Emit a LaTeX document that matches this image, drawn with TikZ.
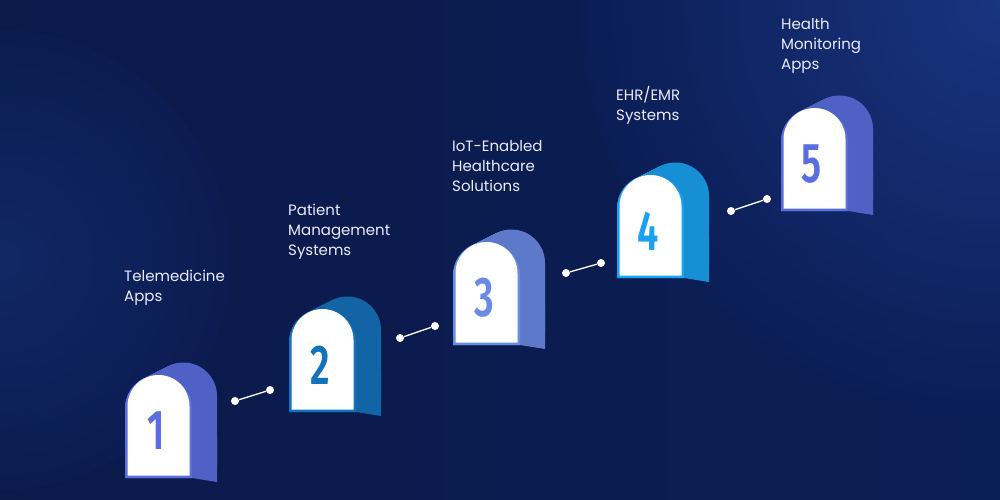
\documentclass[tikz,border=0pt]{standalone}
\usepackage{fontspec}
\setmainfont{Poppins}
\newfontfamily\numfont{Fira Sans}[UprightFont=* SemiBold]
\begin{document}
\begin{tikzpicture}[x=1pt,y=-1pt,
  lbl/.style={text=white!92!blue,font=\fontsize{15}{20}\selectfont,align=left,anchor=north west,inner sep=0pt},
  dot/.style={circle,fill=white,inner sep=0pt,minimum size=8pt},
  link/.style={white,line width=1.3pt}]
\useasboundingbox (0,0) rectangle (1000,500);
\definecolor{bgA}{HTML}{0C1E56}
\definecolor{bgB}{HTML}{1E3F92}
\definecolor{cA}{HTML}{5A6EE0}
\definecolor{cB}{HTML}{1472BA}
\definecolor{cC}{HTML}{6A8AE6}
\definecolor{cD}{HTML}{1AA2F2}
\shade[left color=bgA!85!black,right color=bgA] (0,0) rectangle (1000,500);
\shade[inner color=bgB,outer color=bgA,opacity=0.7] (1000,0) circle (420);
\shade[inner color=bgB!70!bgA,outer color=bgA,opacity=0.5] (0,260) circle (230);
\newcommand\facepath[3]{(#1+#3,#2) -- (#1+#3,#2-69.5) arc[start angle=180,end angle=360,radius=33.5-#3] -- (#1+67-#3,#2) -- cycle}
\newcommand\block[5]{%
  \foreach \t in {0,...,25}{\fill[#3!88!black] \facepath{#1+\t}{#2-\t*0.5}{0};}
  \fill[#3!88!black] (#1+67,#2) -- (#1+92,#2+4) -- (#1+92,#2-40) -- (#1+67,#2-40) -- cycle;
  \fill[#3] \facepath{#1}{#2}{0};
  \fill[white] \facepath{#1}{#2-2.5}{2.5};
  \node[text=#3,font=\numfont\fontsize{56}{56}\selectfont,xscale=0.68] (#4) at (#1+31,#2-47) {#5};
}
\block{125}{478}{cA}{b1}{1}
\block{289}{412}{cB}{b2}{2}
\block{453}{345}{cC}{b3}{3}
\block{617}{278}{cD}{b4}{4}
\block{781}{211}{cA}{b5}{5}
\node[dot] (d1a) at (235,401) {}; \node[dot] (d1b) at (270,390) {};
\node[dot] (d2a) at (400,338) {}; \node[dot] (d2b) at (435,326) {};
\node[dot] (d3a) at (566,273) {}; \node[dot] (d3b) at (601,263) {};
\node[dot] (d4a) at (731,211) {}; \node[dot] (d4b) at (767,199) {};
\draw[link] (d1a) -- (d1b); \draw[link] (d2a) -- (d2b);
\draw[link] (d3a) -- (d3b); \draw[link] (d4a) -- (d4b);
\node[lbl] (t1) at (124,270) {Telemedicine\\Apps};
\node[lbl] (t2) at (288,204) {Patient\\Management\\Systems};
\node[lbl] (t3) at (452,140) {IoT-Enabled\\Healthcare\\Solutions};
\node[lbl] (t4) at (616,86) {EHR/EMR\\Systems};
\node[lbl] (t5) at (781,18) {Health\\Monitoring\\Apps};
\end{tikzpicture}
\end{document}
